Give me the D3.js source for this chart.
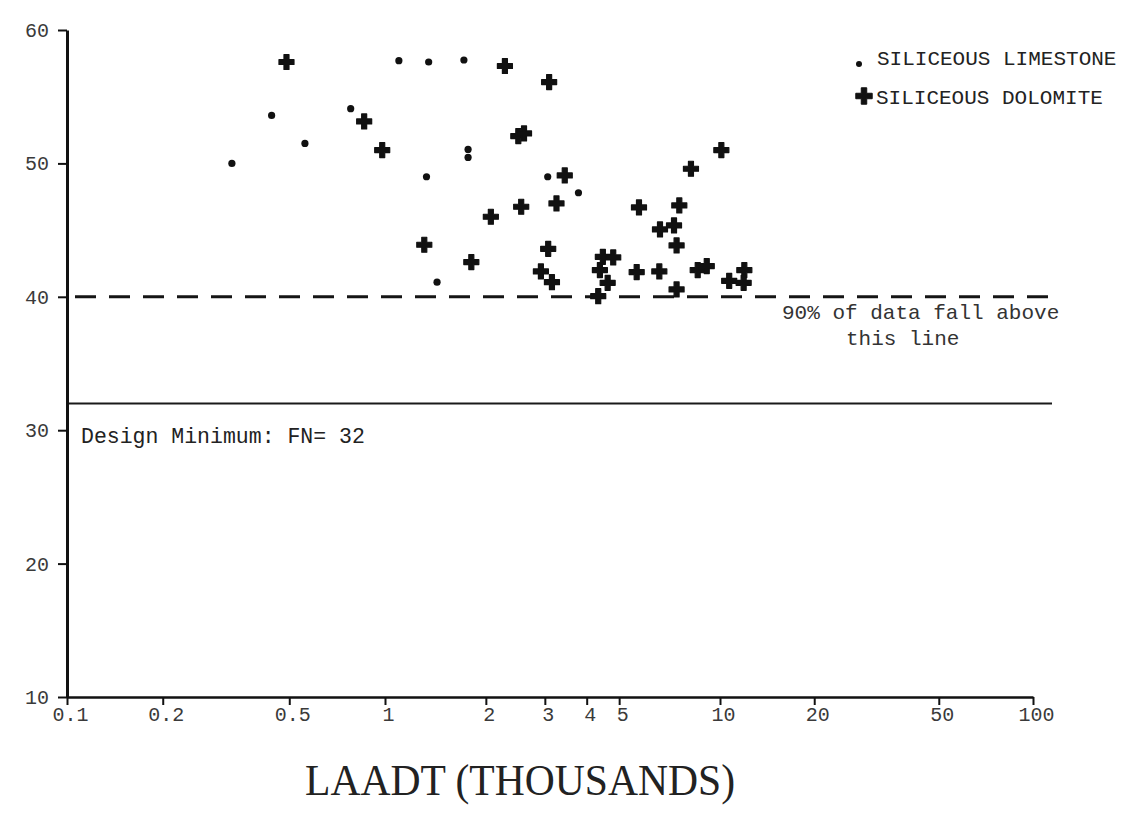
<!DOCTYPE html>
<html>
<head>
<meta charset="utf-8">
<script src="https://cdnjs.cloudflare.com/ajax/libs/d3/7.8.5/d3.min.js"></script>
<style>
	body {
		margin: 0;
		background: #fff;
	}
	.mono {
		font-family: 'Liberation Mono', 'DejaVu Sans Mono', monospace;
	}
	.axis path,
	.axis line {
		stroke: #111;
	}
	.axis text {
		fill: #3a3a3a;
		font-size: 20px;
		font-family: 'Liberation Mono', monospace;
	}
</style>
</head>
<body>
<div class="container"></div>
<script>
var xTicks = [0.1, 0.2, 0.5, 1, 2, 3, 4, 5, 10, 20, 50, 100];
var xTickLabels = ['0.1', '0.2', '0.5', '1', '2', '3', '4', '5', '10', '20', '50', '100'];
var yTicks = [10, 20, 30, 40, 50, 60];

var limestoneX = [0.33, 0.44, 0.56, 0.78, 1.1, 1.35, 1.72, 1.33, 1.77, 1.77, 1.43, 3.06, 3.78];
var limestoneY = [50.0, 53.6, 51.5, 54.1, 57.7, 57.6, 57.75, 49.0, 51.05, 50.45, 41.1, 49.0, 47.8];

var dolomiteX = [
	0.49, 0.86, 0.98, 2.28, 3.09, 2.5, 2.6, 3.44, 3.25, 2.55, 2.07, 1.31, 1.81,
	3.07, 2.92, 3.15, 4.47, 4.8, 4.38, 4.62, 4.33, 5.64, 5.73, 6.59, 6.62, 7.29,
	7.56, 7.42, 7.42, 8.19, 10.1, 8.58, 9.13, 10.7, 11.96, 11.9
];
var dolomiteY = [
	57.6, 53.15, 51.0, 57.3, 56.1, 52.05, 52.25, 49.1, 47.0, 46.75, 46.0, 43.9, 42.6,
	43.6, 41.9, 41.1, 43.0, 42.95, 42.0, 41.05, 40.05, 41.85, 46.7, 41.9, 45.05, 45.35,
	46.85, 43.85, 40.55, 49.6, 51.0, 42.0, 42.3, 41.2, 42.0, 41.05
];

var ninetyPercentLine = 40;
var designMinimum = 32;

var svg = d3
	.select('.container')
	.append('svg')
	.attr('width', 1127)
	.attr('height', 814);

// hand drawn axis: the decades are not quite equal
var x = d3
	.scaleLog()
	.domain([0.1, 1, 10, 100])
	.range([67, 385, 720, 1033]);

var y = d3
	.scaleLinear()
	.domain([10, 60])
	.range([697, 30]);

svg
	.append('line')
	.attr('x1', 75)
	.attr('x2', 1050)
	.attr('y1', y(ninetyPercentLine))
	.attr('y2', y(ninetyPercentLine))
	.attr('stroke', '#151515')
	.attr('stroke-width', 3)
	.attr('stroke-dasharray', '21 13');

svg
	.append('line')
	.attr('x1', 67)
	.attr('x2', 1052)
	.attr('y1', y(designMinimum))
	.attr('y2', y(designMinimum))
	.attr('stroke', '#1a1a1a')
	.attr('stroke-width', 2);

var xAxis = svg
	.append('g')
	.attr('class', 'axis')
	.attr('transform', 'translate(0,' + y(10) + ')')
	.call(
		d3
			.axisBottom(x)
			.tickValues(xTicks)
			.tickFormat(function(d, i) {
				return xTickLabels[i];
			})
			.tickSize(8)
			.tickSizeOuter(0)
			.tickPadding(2)
	);
xAxis.select('.domain').attr('stroke-width', 2.5);
xAxis.selectAll('.tick line').attr('stroke-width', 2);
xAxis.selectAll('.tick text').attr('dx', 3);

var yAxis = svg
	.append('g')
	.attr('class', 'axis')
	.attr('transform', 'translate(67,0)')
	.call(
		d3
			.axisLeft(y)
			.tickValues(yTicks)
			.tickSize(9)
			.tickSizeOuter(0)
			.tickPadding(9)
	);
yAxis.select('.domain').attr('stroke-width', 3);
yAxis.selectAll('.tick line').attr('stroke-width', 2);

svg
	.append('g')
	.selectAll('circle')
	.data(limestoneX)
	.enter()
	.append('circle')
	.attr('cx', function(d) {
		return x(d);
	})
	.attr('cy', function(d, i) {
		return y(limestoneY[i]);
	})
	.attr('r', 3.6)
	.attr('fill', '#111');

var cross = d3.symbol(d3.symbolCross, 125);

svg
	.append('g')
	.selectAll('path')
	.data(dolomiteX)
	.enter()
	.append('path')
	.attr('d', cross)
	.attr('transform', function(d, i) {
		return 'translate(' + x(d) + ',' + y(dolomiteY[i]) + ')';
	})
	.attr('fill', '#111')
	.attr('stroke', '#111')
	.attr('stroke-width', 1.2)
	.attr('stroke-linejoin', 'round');

// legend
svg
	.append('circle')
	.attr('cx', 859)
	.attr('cy', 64)
	.attr('r', 3)
	.attr('fill', '#111');
svg
	.append('text')
	.attr('class', 'mono')
	.attr('x', 877)
	.attr('y', 65)
	.attr('font-size', 21)
	.attr('fill', '#222')
	.text('SILICEOUS LIMESTONE');
svg
	.append('path')
	.attr('d', d3.symbol(d3.symbolCross, 150))
	.attr('transform', 'translate(864,96)')
	.attr('fill', '#111')
	.attr('stroke', '#111')
	.attr('stroke-linejoin', 'round');
svg
	.append('text')
	.attr('class', 'mono')
	.attr('x', 876)
	.attr('y', 104)
	.attr('font-size', 21)
	.attr('fill', '#222')
	.text('SILICEOUS DOLOMITE');

svg
	.append('text')
	.attr('class', 'mono')
	.attr('x', 782)
	.attr('y', 319)
	.attr('font-size', 21)
	.attr('fill', '#333')
	.text('90% of data fall above');
svg
	.append('text')
	.attr('class', 'mono')
	.attr('x', 846)
	.attr('y', 345)
	.attr('font-size', 21)
	.attr('fill', '#333')
	.text('this line');

svg
	.append('text')
	.attr('class', 'mono')
	.attr('x', 81)
	.attr('y', 443)
	.attr('font-size', 21.5)
	.attr('fill', '#222')
	.text('Design Minimum: FN= 32');

svg
	.append('text')
	.attr('x', 305)
	.attr('y', 795)
	.style('font-family', "'Liberation Serif', 'DejaVu Serif', serif")
	.style('font-size', '45px')
	.attr('textLength', 430)
	.attr('lengthAdjust', 'spacingAndGlyphs')
	.attr('fill', '#222')
	.text('LAADT (THOUSANDS)');
</script>
</body>
</html>
